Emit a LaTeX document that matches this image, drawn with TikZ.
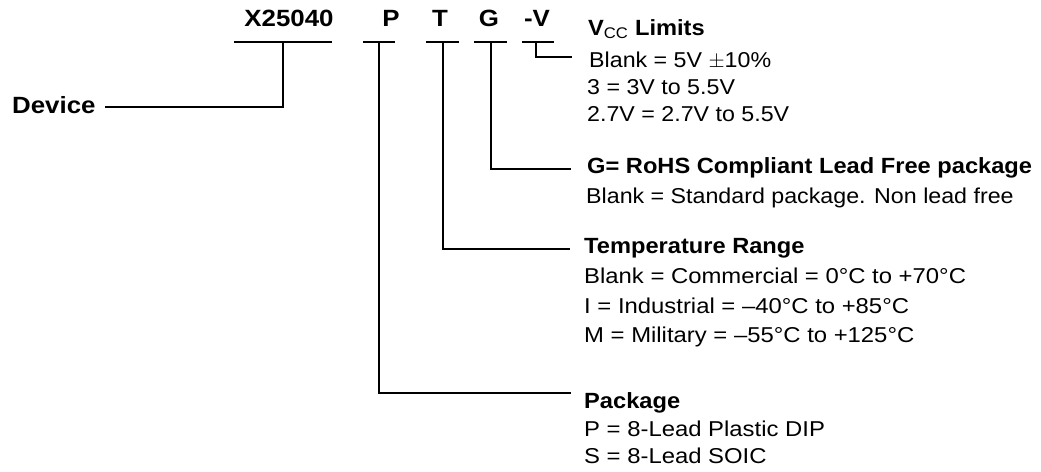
\documentclass[tikz,border=0pt]{standalone}
\usepackage{fontspec}
\setmainfont{Liberation Sans}[FakeStretch=1.08]
\newfontfamily\boldf{Liberation Sans}[FakeStretch=1.075]
\newfontfamily\codef{Liberation Sans}[FakeStretch=1.1]
\newfontfamily\widef{Liberation Sans}[FakeStretch=1.11]
\begin{document}
\begin{tikzpicture}[x=1pt,y=-1pt,
  lead/.style={line width=1.6pt},
  txt/.style={anchor=base west,inner sep=0pt,font=\fontsize{21.5}{26}\selectfont},
  txtw/.style={anchor=base west,inner sep=0pt,font=\widef\fontsize{21.5}{26}\selectfont},
  ttl/.style={anchor=base west,inner sep=0pt,font=\boldf\bfseries\fontsize{22}{26}\selectfont},
  code/.style={anchor=base,inner sep=0pt,font=\codef\bfseries\fontsize{23.5}{26}\selectfont}]
\useasboundingbox (0,0) rectangle (1041,471);
% part number row
\node[code] (pn) at (289,26) {X25040};
\node[code] (cp) at (391,26) {P};
\node[code] (ct) at (440,26) {T};
\node[code] (cg) at (489,26) {G};
\node[code] (cv) at (537,26) {-V};
\node[code,anchor=base west] (dev) at (12,113) {Device};
% bars
\coordinate (xl) at (234,42); \coordinate (xr) at (332,42); \coordinate (xm) at (283,42);
\coordinate (pl) at (363,42); \coordinate (pr) at (395,42); \coordinate (pm) at (379,42);
\coordinate (tl) at (426,42); \coordinate (tr) at (459,42); \coordinate (tm) at (443,42);
\coordinate (gl) at (474,42); \coordinate (gr) at (507,42); \coordinate (gm) at (491,42);
\coordinate (vl) at (522,42); \coordinate (vr) at (554,42); \coordinate (vm) at (536,42);
\coordinate (dve) at (105,107);
\coordinate (pe) at (571,393);
\coordinate (te) at (570,249);
\coordinate (ge) at (571,169);
\coordinate (ve) at (572,57);
\draw[lead] (xl) -- (xr);
\draw[lead] (pl) -- (pr);
\draw[lead] (tl) -- (tr);
\draw[lead] (gl) -- (gr);
\draw[lead] (vl) -- (vr);
\draw[lead] (xm) |- (dve);
\draw[lead] (pm) |- (pe);
\draw[lead] (tm) |- (te);
\draw[lead] (gm) |- (ge);
\draw[lead] (vm) |- (ve);
% Vcc
\node[ttl] (tv) at (588,35) {V\textsubscript{\fontspec{Liberation Sans}[FakeStretch=1.08]\mdseries CC} Limits};
\node[txt] (v1) at (589,67) {Blank = 5V $\pm$10\%};
\node[txt] (v2) at (587,94) {3 = 3V to 5.5V};
\node[txt] (v3) at (587,121) {2.7V = 2.7V to 5.5V};
% G
\node[ttl] (tg) at (587,173) {G= RoHS Compliant Lead Free package};
\node[txt] (g1) at (586,203) {Blank = Standard package. Non lead free};
% Temperature
\node[ttl] (tt) at (584,253) {Temperature Range};
\node[txtw] (t1) at (584,283) {Blank = Commercial = 0°C to +70°C};
\node[txtw] (t2) at (584,313) {I = Industrial = –40°C to +85°C};
\node[txtw] (t3) at (584,342) {M = Military = –55°C to +125°C};
% Package
\node[ttl] (tp) at (584,408) {Package};
\node[txtw] (p1) at (584,436) {P = 8-Lead Plastic DIP};
\node[txtw] (p2) at (584,463) {S = 8-Lead SOIC};
\end{tikzpicture}
\end{document}
